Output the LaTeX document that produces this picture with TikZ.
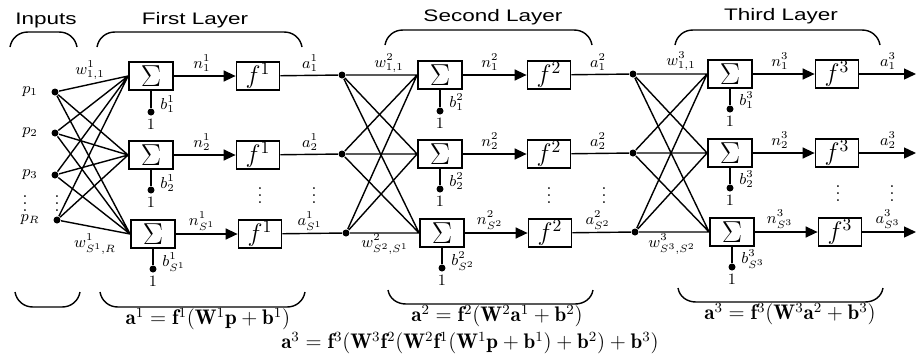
\documentclass[tikz,border=0pt]{standalone}
\usepackage{fontspec}
\newfontfamily\headfont[FakeStretch=1.35]{Liberation Sans}
\usetikzlibrary{arrows.meta,positioning}

\begin{document}
\begin{tikzpicture}[x=0.02cm,y=-0.02cm,thick,
  sumbox/.style={draw,line width=1pt,minimum width=0.88cm,minimum height=0.56cm,inner sep=0pt,font=\LARGE},
  fbox/.style={draw,line width=1pt,minimum width=0.86cm,minimum height=0.56cm,inner sep=0pt,font=\Large},
  blob/.style={circle,fill,inner sep=0pt,minimum size=0.14cm},
  lbl/.style={font=\small,inner sep=1pt},
  layertitle/.style={font=\headfont\fontsize{9.5}{11}\selectfont},
  eqn/.style={font=\large},
  flow/.style={-{Triangle[length=0.24cm,width=0.22cm]}}]
\useasboundingbox (0,0) rectangle (917,356);

% titles and brackets
\node[layertitle] (tin) at (46,20) {Inputs};
\node[layertitle] (tl1) at (195,20) {First Layer};
\node[layertitle] (tl2) at (493,17) {Second Layer};
\node[layertitle] (tl3) at (781,16) {Third Layer};
\draw (10,47) to[out=80,in=180] (28,32) -- (59,32) to[out=0,in=100] (77,47);
\draw (97,47) to[out=80,in=180] (115,32) -- (284,32) to[out=0,in=100] (302,47);
\draw (385,45) to[out=80,in=180] (403,30) -- (574,30) to[out=0,in=100] (592,45);
\draw (675,45) to[out=80,in=180] (693,30) -- (862,30) to[out=0,in=100] (880,45);
\draw (15,292) to[out=-80,in=180] (33,307) -- (62,307) to[out=0,in=-100] (80,292);
\draw (100,292) to[out=-80,in=180] (118,307) -- (287,307) to[out=0,in=-100] (305,292);
\draw (388,290) to[out=-80,in=180] (406,304) -- (575,304) to[out=0,in=-100] (593,290);
\draw (678,288) to[out=-80,in=180] (696,302) -- (865,302) to[out=0,in=-100] (883,288);

% inputs
\node[blob] (p1) at (55,92) {};
\node[blob] (p2) at (55,133) {};
\node[blob] (p3) at (55,175) {};
\node[blob] (pR) at (57,220) {};
\node[lbl] (lp1) at (30,92) {$p_1$};
\node[lbl] (lp2) at (30,133) {$p_2$};
\node[lbl] (lp3) at (30,175) {$p_3$};
\node[lbl] (lpR) at (30,220) {$p_R$};
\node (vin1) at (25,198) {$\vdots$};
\node (vin2) at (57,198) {$\vdots$};

% first layer
\node[sumbox] (s11) at (151,76) {$\Sigma$};
\node[sumbox] (s12) at (151,155) {$\Sigma$};
\node[sumbox] (s13) at (153,234) {$\Sigma$};
\node[fbox] (f11) at (258,76) {$f^1$};
\node[fbox] (f12) at (258,155) {$f^1$};
\node[fbox] (f13) at (260,234) {$f^1$};
\node[blob,label={[lbl]below:1}] (b11) at (151,112) {};
\node[blob,label={[lbl]below:1}] (b12) at (151,190) {};
\node[blob,label={[lbl]below:1}] (b13) at (153,269) {};
\draw (p1) -- (s11.west) (p2) -- (s11.west) (p3) -- (s11.west) (pR) -- (s11.west);
\draw (p1) -- (s12.west) (p2) -- (s12.west) (p3) -- (s12.west) (pR) -- (s12.west);
\draw (p1) -- (s13.west) (p2) -- (s13.west) (p3) -- (s13.west) (pR) -- (s13.west);
\draw (s11) -- (b11);
\draw (s12) -- (b12);
\draw (s13) -- (b13);
\draw[flow] (s11) -- (f11);
\draw[flow] (s12) -- (f12);
\draw[flow] (s13) -- (f13);
\node[lbl] (w1a) at (90,70) {$w^1_{1,1}$};
\node[lbl] (w1b) at (95,244) {$w^1_{S^1,R}$};
\node[lbl,anchor=west] (lb11) at (158,104) {$b^1_1$};
\node[lbl,anchor=west] (lb12) at (158,183) {$b^1_2$};
\node[lbl,anchor=west] (lb13) at (160,262) {$b^1_{S^1}$};
\node[lbl] (ln11) at (202,63) {$n^1_1$};
\node[lbl] (ln12) at (202,142) {$n^1_2$};
\node[lbl] (ln13) at (202,221) {$n^1_{S^1}$};
\node[lbl] (la11) at (310,63) {$a^1_1$};
\node[lbl] (la12) at (310,142) {$a^1_2$};
\node[lbl] (la13) at (310,221) {$a^1_{S^1}$};
\node (v11) at (260,190) {$\vdots$};
\node (v12) at (314,190) {$\vdots$};

% second layer
\node[blob] (d21) at (342,75) {};
\node[blob] (d22) at (342,154) {};
\node[blob] (d23) at (346,233) {};
\node[sumbox] (s21) at (440,75) {$\Sigma$};
\node[sumbox] (s22) at (440,154) {$\Sigma$};
\node[sumbox] (s23) at (442,233) {$\Sigma$};
\node[fbox] (f21) at (549,75) {$f^2$};
\node[fbox] (f22) at (549,154) {$f^2$};
\node[fbox] (f23) at (550,233) {$f^2$};
\node[blob,label={[lbl]below:1}] (b21) at (440,111) {};
\node[blob,label={[lbl]below:1}] (b22) at (440,189) {};
\node[blob,label={[lbl]below:1}] (b23) at (442,268) {};
\draw (f11) -- (d21);
\draw (f12) -- (d22);
\draw (f13) -- (d23);
\draw (d21) -- (s21.west) (d22) -- (s21.west) (d23) -- (s21.west);
\draw (d21) -- (s22.west) (d22) -- (s22.west) (d23) -- (s22.west);
\draw (d21) -- (s23.west) (d22) -- (s23.west) (d23) -- (s23.west);
\draw (s21) -- (b21);
\draw (s22) -- (b22);
\draw (s23) -- (b23);
\draw[flow] (s21) -- (f21);
\draw[flow] (s22) -- (f22);
\draw[flow] (s23) -- (f23);
\node[lbl] (w2a) at (389,63) {$w^2_{1,1}$};
\node[lbl] (w2b) at (385,244) {$w^2_{S^2,S^1}$};
\node[lbl,anchor=west] (lb21) at (447,102) {$b^2_1$};
\node[lbl,anchor=west] (lb22) at (447,181) {$b^2_2$};
\node[lbl,anchor=west] (lb23) at (449,261) {$b^2_{S^2}$};
\node[lbl] (ln21) at (490,62) {$n^2_1$};
\node[lbl] (ln22) at (490,141) {$n^2_2$};
\node[lbl] (ln23) at (490,220) {$n^2_{S^2}$};
\node[lbl] (la21) at (598,62) {$a^2_1$};
\node[lbl] (la22) at (598,141) {$a^2_2$};
\node[lbl] (la23) at (598,220) {$a^2_{S^2}$};
\node (v21) at (549,190) {$\vdots$};
\node (v22) at (604,190) {$\vdots$};

% third layer
\node[blob] (d31) at (633,74) {};
\node[blob] (d32) at (633,153) {};
\node[blob] (d33) at (635,232) {};
\node[sumbox] (s31) at (730,74) {$\Sigma$};
\node[sumbox] (s32) at (730,153) {$\Sigma$};
\node[sumbox] (s33) at (732,232) {$\Sigma$};
\node[fbox] (f31) at (837,74) {$f^3$};
\node[fbox] (f32) at (837,153) {$f^3$};
\node[fbox] (f33) at (840,232) {$f^3$};
\node[blob,label={[lbl]below:1}] (b31) at (730,109) {};
\node[blob,label={[lbl]below:1}] (b32) at (730,188) {};
\node[blob,label={[lbl]below:1}] (b33) at (732,267) {};
\coordinate (o1) at (916,74);
\coordinate (o2) at (916,153);
\coordinate (o3) at (916,232);
\draw (f21) -- (d31);
\draw (f22) -- (d32);
\draw (f23) -- (d33);
\draw (d31) -- (s31.west) (d32) -- (s31.west) (d33) -- (s31.west);
\draw (d31) -- (s32.west) (d32) -- (s32.west) (d33) -- (s32.west);
\draw (d31) -- (s33.west) (d32) -- (s33.west) (d33) -- (s33.west);
\draw (s31) -- (b31);
\draw (s32) -- (b32);
\draw (s33) -- (b33);
\draw[flow] (s31) -- (f31);
\draw[flow] (s32) -- (f32);
\draw[flow] (s33) -- (f33);
\draw[flow] (f31) -- (o1);
\draw[flow] (f32) -- (o2);
\draw[flow] (f33) -- (o3);
\node[lbl] (w3a) at (681,61) {$w^3_{1,1}$};
\node[lbl] (w3b) at (672,244) {$w^3_{S^3,S^2}$};
\node[lbl,anchor=west] (lb31) at (737,100) {$b^3_1$};
\node[lbl,anchor=west] (lb32) at (737,179) {$b^3_2$};
\node[lbl,anchor=west] (lb33) at (739,259) {$b^3_{S^3}$};
\node[lbl] (ln31) at (780,61) {$n^3_1$};
\node[lbl] (ln32) at (780,140) {$n^3_2$};
\node[lbl] (ln33) at (780,219) {$n^3_{S^3}$};
\node[lbl] (la31) at (888,61) {$a^3_1$};
\node[lbl] (la32) at (888,140) {$a^3_2$};
\node[lbl] (la33) at (888,219) {$a^3_{S^3}$};
\node (v31) at (838,188) {$\vdots$};
\node (v32) at (892,188) {$\vdots$};

% equations
\node[eqn] (eq1) at (208,319) {$\mathbf{a}^1=\mathbf{f}^1(\mathbf{W}^1\mathbf{p}+\mathbf{b}^1)$};
\node[eqn] (eq2) at (497,316) {$\mathbf{a}^2=\mathbf{f}^2(\mathbf{W}^2\mathbf{a}^1+\mathbf{b}^2)$};
\node[eqn] (eq3) at (790,314) {$\mathbf{a}^3=\mathbf{f}^3(\mathbf{W}^3\mathbf{a}^2+\mathbf{b}^3)$};
\node[eqn] (eq4) at (470,343) {$\mathbf{a}^3=\mathbf{f}^3(\mathbf{W}^3\mathbf{f}^2(\mathbf{W}^2\mathbf{f}^1(\mathbf{W}^1\mathbf{p}+\mathbf{b}^1)+\mathbf{b}^2)+\mathbf{b}^3)$};
\end{tikzpicture}
\end{document}
